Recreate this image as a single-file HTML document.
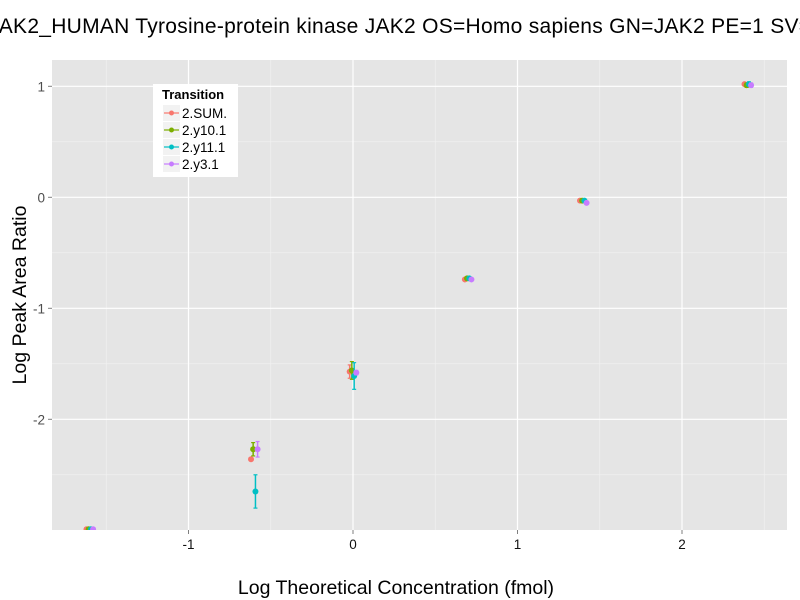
<!DOCTYPE html>
<html><head><meta charset="utf-8"><style>
body{margin:0;background:#fff;}
svg{display:block;font-family:"Liberation Sans",Arial,sans-serif;}
</style></head><body>
<svg id="chart" width="800" height="600">
<defs><clipPath id="pc"><rect x="52" y="60" width="735" height="470"/></clipPath></defs>
<text x="-12" y="33" font-size="21" textLength="835" lengthAdjust="spacing" fill="#000">JAK2_HUMAN Tyrosine-protein kinase JAK2 OS=Homo sapiens GN=JAK2 PE=1 SV=2</text>
<rect x="52" y="60" width="735" height="470" fill="#e5e5e5"/>
<g id="grid"></g>
<g id="marks" clip-path="url(#pc)"></g>
<g id="axes"></g>
<text x="396" y="594" font-size="19.5" text-anchor="middle">Log Theoretical Concentration (fmol)</text>
<text transform="translate(26,295) rotate(-90)" font-size="19.5" text-anchor="middle">Log Peak Area Ratio</text>
<g>
<rect x="153" y="84" width="85" height="93" fill="#fff"/>
<text x="162" y="99" font-size="13" font-weight="bold">Transition</text>
<g id="legend"></g>
</g>
</svg>
<script>
const categories = [-1.6, -0.6, 0, 0.7, 1.4, 2.4];
const seriesNames = ["2.SUM.", "2.y10.1", "2.y11.1", "2.y3.1"];
const colors = ["#F8766D", "#7CAE00", "#00BFC4", "#C77CFF"];
const sumVals = [-2.99, -2.36, -1.57, -0.74, -0.03, 1.02];
const y10Vals = [-2.99, -2.27, -1.56, -0.73, -0.03, 1.01];
const y11Vals = [-2.99, -2.65, -1.61, -0.73, -0.03, 1.02];
const y3Vals = [-2.99, -2.27, -1.58, -0.74, -0.05, 1.01];
const sumErr = [0.01, 0.01, 0.06, 0.01, 0.01, 0.01];
const y10Err = [0.01, 0.06, 0.08, 0.01, 0.01, 0.02];
const y11Err = [0.01, 0.15, 0.12, 0.01, 0.01, 0.02];
const y3Err = [0.01, 0.07, 0.02, 0.01, 0.01, 0.02];
const xTicks = [-1, 0, 1, 2];
const yTicks = [-2, -1, 0, 1];
const xMinor = [-1.5, -0.5, 0.5, 1.5, 2.5];
const yMinor = [-2.5, -1.5, -0.5, 0.5];

const values = [sumVals, y10Vals, y11Vals, y3Vals];
const errs = [sumErr, y10Err, y11Err, y3Err];
const NS = "http://www.w3.org/2000/svg";
const X = v => 353 + v * 164.5;
const Y = v => 197.3 - v * 111;
function mk(tag, attrs, parent){const e=document.createElementNS(NS,tag);for(const k in attrs)e.setAttribute(k,attrs[k]);parent.appendChild(e);return e;}
const grid=document.getElementById('grid'), axes=document.getElementById('axes'), marks=document.getElementById('marks'), leg=document.getElementById('legend');
xMinor.forEach(v=>{const l=mk('line',{x1:X(v),x2:X(v),y1:60,y2:530,stroke:'#f2f2f2','stroke-width':0.6},grid);

});
yMinor.forEach(v=>{const l=mk('line',{x1:52,x2:787,y1:Y(v),y2:Y(v),stroke:'#f2f2f2','stroke-width':0.6},grid);

});
xTicks.forEach(v=>{const l=mk('line',{x1:X(v),x2:X(v),y1:60,y2:530,stroke:'#fff','stroke-width':1.2},grid);


const t=mk('line',{x1:X(v),x2:X(v),y1:530,y2:534,stroke:'#7f7f7f','stroke-width':1},axes);


const tx=mk('text',{x:X(v),y:549,'font-size':13.5,'text-anchor':'middle',fill:'#111'},axes);tx.textContent=v;

});
yTicks.forEach(v=>{const l=mk('line',{x1:52,x2:787,y1:Y(v),y2:Y(v),stroke:'#fff','stroke-width':1.2},grid);


const t=mk('line',{x1:48,x2:52,y1:Y(v),y2:Y(v),stroke:'#7f7f7f','stroke-width':1},axes);


const tx=mk('text',{x:45,y:Y(v)+5,'font-size':13.5,'text-anchor':'end',fill:'#4d4d4d'},axes);tx.textContent=v;

});
const dodge=[-0.02,-0.007,0.007,0.02];
values.forEach((vals,s)=>{vals.forEach((v,i)=>{const cx=X(categories[i]+dodge[s]);const e=errs[s][i];
const g=mk('g',{},marks);


mk('line',{x1:cx,x2:cx,y1:Y(v+e),y2:Y(v-e),stroke:colors[s],'stroke-width':1.5},g);
mk('line',{x1:cx-2,x2:cx+2,y1:Y(v+e),y2:Y(v+e),stroke:colors[s],'stroke-width':1.2},g);
mk('line',{x1:cx-2,x2:cx+2,y1:Y(v-e),y2:Y(v-e),stroke:colors[s],'stroke-width':1.2},g);
mk('circle',{cx:cx,cy:Y(v),r:3,fill:colors[s]},g);});});
seriesNames.forEach((n,s)=>{const y=113+s*17;const g=mk('g',{},leg);


mk('rect',{x:163,y:y-8,width:17,height:16,fill:'#f2f2f2'},g);
mk('line',{x1:164,x2:179,y1:y,y2:y,stroke:colors[s],'stroke-width':1.2},g);
mk('circle',{cx:171.5,cy:y,r:2.5,fill:colors[s]},g);
const t=mk('text',{x:182,y:y+5,'font-size':13.5},g);t.textContent=n;});
</script>
</body></html>
